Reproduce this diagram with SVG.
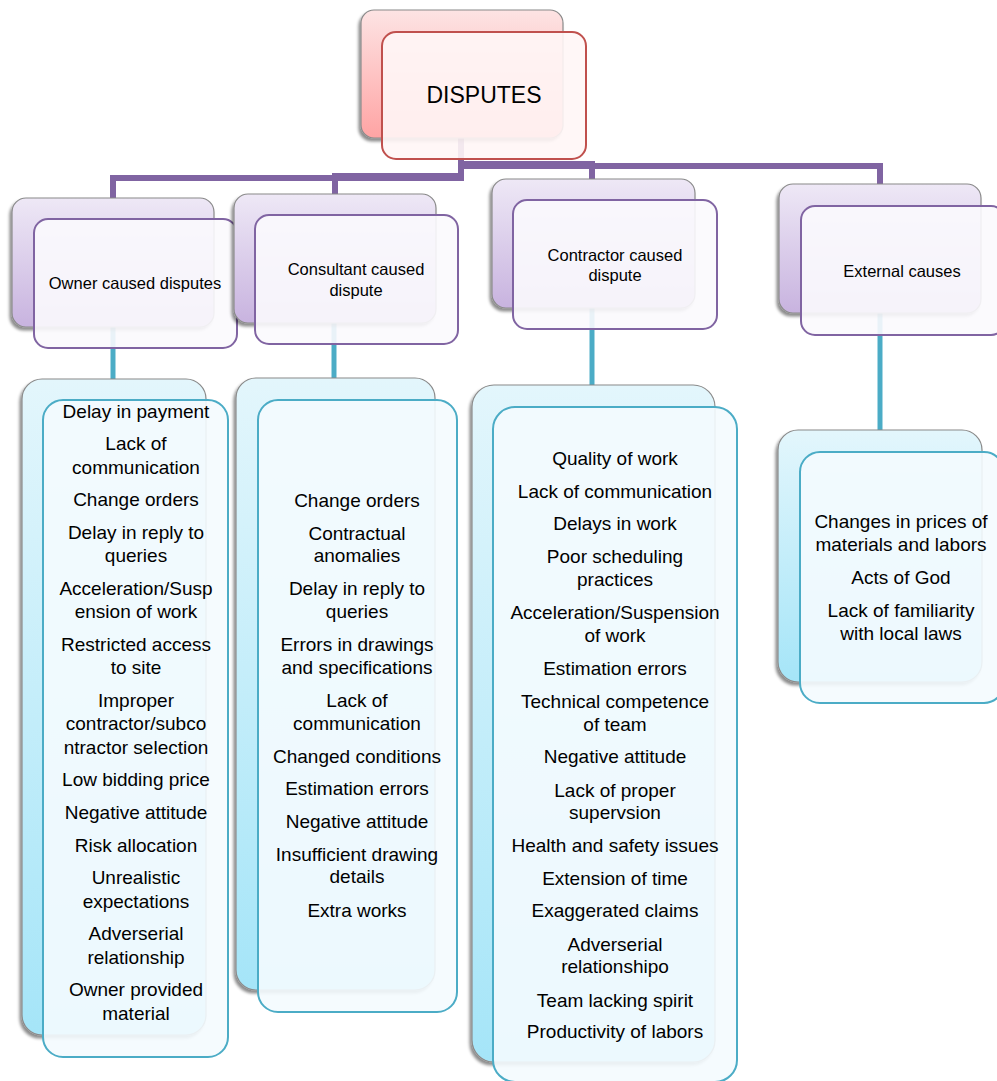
<svg xmlns="http://www.w3.org/2000/svg" width="997" height="1081" viewBox="0 0 997 1081">
<defs>
<linearGradient id="gRed" x1="0" y1="0" x2="0" y2="1"><stop offset="0" stop-color="#fde4e4"/><stop offset="1" stop-color="#ffa4a4"/></linearGradient>
<linearGradient id="gPur" x1="0" y1="0" x2="0" y2="1"><stop offset="0" stop-color="#eee8f6"/><stop offset="1" stop-color="#c8b3df"/></linearGradient>
<linearGradient id="gCyan" x1="0" y1="0" x2="0" y2="1"><stop offset="0" stop-color="#e3f6fc"/><stop offset="1" stop-color="#a5e5f8"/></linearGradient>
<filter id="sh" x="-10%" y="-10%" width="120%" height="120%"><feDropShadow dx="-2" dy="3" stdDeviation="1.5" flood-color="#000" flood-opacity="0.45"/></filter>
<style>
.back{stroke:#8a8a8a;stroke-width:1.2;filter:url(#sh)}
.f1{fill:#fff6f6;fill-opacity:0.9;stroke:#c0504d;stroke-width:2}
.f2{fill:#fbfafd;fill-opacity:0.9;stroke:#8064a2;stroke-width:2}
.f3{fill:#f4fbfe;fill-opacity:0.9;stroke:#4bacc6;stroke-width:2}
.pc{fill:none;stroke:#8064a2;stroke-width:6}
.tc{fill:none;stroke:#4bacc6;stroke-width:5}
text{font-family:"Liberation Sans",Arial,sans-serif;fill:#000;text-anchor:middle}
.t1{font-size:23px}
.t2{font-size:16.5px}
.t3{font-size:19px}
</style>
</defs>
<rect width="997" height="1081" fill="#fff"/>
<g id="connectors">
<path class="pc" d="M461,138 V178 H113 V199"/>
<path class="pc" d="M461,138 V176 H335 V194"/>
<path class="pc" d="M461,138 V164 H592 V179"/>
<path class="pc" d="M461,138 V166 H880 V185"/>
<path class="tc" d="M113,327 V379"/>
<path class="tc" d="M334,323 V378"/>
<path class="tc" d="M592,308 V385"/>
<path class="tc" d="M880,313 V430"/>
</g>
<g id="disputes">
<rect class="back" x="361" y="10" width="202" height="128" rx="13" fill="url(#gRed)"/>
<rect class="f1" x="382" y="32" width="204" height="127" rx="14"/>
<text class="t1" x="484" y="103">DISPUTES</text>
</g>
<g id="owner">
<rect class="back" x="12" y="198" width="202" height="129" rx="14" fill="url(#gPur)"/>
<rect class="f2" x="34" y="219" width="203" height="129" rx="14"/>
<text class="t2" x="135" y="289">Owner caused disputes</text>
</g>
<g id="consultant">
<rect class="back" x="234" y="194" width="202" height="129" rx="14" fill="url(#gPur)"/>
<rect class="f2" x="255" y="215" width="203" height="129" rx="14"/>
<text class="t2" x="356" y="275">Consultant caused</text>
<text class="t2" x="356" y="296">dispute</text>
</g>
<g id="contractor">
<rect class="back" x="492" y="179" width="203" height="129" rx="14" fill="url(#gPur)"/>
<rect class="f2" x="513" y="200" width="204" height="129" rx="14"/>
<text class="t2" x="615" y="261">Contractor caused</text>
<text class="t2" x="615" y="281">dispute</text>
</g>
<g id="external">
<rect class="back" x="779" y="184" width="202" height="129" rx="14" fill="url(#gPur)"/>
<rect class="f2" x="801" y="206" width="204" height="129" rx="14"/>
<text class="t2" x="902" y="277">External causes</text>
</g>
<g id="owner-list">
<rect class="back" x="22" y="379" width="184" height="656" rx="20" fill="url(#gCyan)"/>
<rect class="f3" x="43" y="400" width="185" height="657" rx="20"/>
<text class="t3" x="136" y="418">Delay in payment</text>
<text class="t3" x="136" y="450">Lack of</text>
<text class="t3" x="136" y="474">communication</text>
<text class="t3" x="136" y="506">Change orders</text>
<text class="t3" x="136" y="539">Delay in reply to</text>
<text class="t3" x="136" y="562">queries</text>
<text class="t3" x="136" y="595">Acceleration/Susp</text>
<text class="t3" x="136" y="618">ension of work</text>
<text class="t3" x="136" y="651">Restricted access</text>
<text class="t3" x="136" y="674">to site</text>
<text class="t3" x="136" y="707">Improper</text>
<text class="t3" x="136" y="730">contractor/subco</text>
<text class="t3" x="136" y="754">ntractor selection</text>
<text class="t3" x="136" y="786">Low bidding price</text>
<text class="t3" x="136" y="819">Negative attitude</text>
<text class="t3" x="136" y="852">Risk allocation</text>
<text class="t3" x="136" y="884">Unrealistic</text>
<text class="t3" x="136" y="908">expectations</text>
<text class="t3" x="136" y="940">Adverserial</text>
<text class="t3" x="136" y="964">relationship</text>
<text class="t3" x="136" y="996">Owner provided</text>
<text class="t3" x="136" y="1020">material</text>
</g>
<g id="consultant-list">
<rect class="back" x="236" y="378" width="199" height="612" rx="20" fill="url(#gCyan)"/>
<rect class="f3" x="258" y="400" width="199" height="612" rx="20"/>
<text class="t3" x="357" y="507">Change orders</text>
<text class="t3" x="357" y="540">Contractual</text>
<text class="t3" x="357" y="562">anomalies</text>
<text class="t3" x="357" y="595">Delay in reply to</text>
<text class="t3" x="357" y="618">queries</text>
<text class="t3" x="357" y="651">Errors in drawings</text>
<text class="t3" x="357" y="674">and specifications</text>
<text class="t3" x="357" y="707">Lack of</text>
<text class="t3" x="357" y="730">communication</text>
<text class="t3" x="357" y="763">Changed conditions</text>
<text class="t3" x="357" y="795">Estimation errors</text>
<text class="t3" x="357" y="828">Negative attitude</text>
<text class="t3" x="357" y="861">Insufficient drawing</text>
<text class="t3" x="357" y="883">details</text>
<text class="t3" x="357" y="917">Extra works</text>
</g>
<g id="contractor-list">
<rect class="back" x="472" y="385" width="243" height="677" rx="22" fill="url(#gCyan)"/>
<rect class="f3" x="493" y="407" width="244" height="675" rx="22"/>
<text class="t3" x="615" y="465">Quality of work</text>
<text class="t3" x="615" y="498">Lack of communication</text>
<text class="t3" x="615" y="530">Delays in work</text>
<text class="t3" x="615" y="563">Poor scheduling</text>
<text class="t3" x="615" y="586">practices</text>
<text class="t3" x="615" y="619">Acceleration/Suspension</text>
<text class="t3" x="615" y="642">of work</text>
<text class="t3" x="615" y="675">Estimation errors</text>
<text class="t3" x="615" y="708">Technical competence</text>
<text class="t3" x="615" y="731">of team</text>
<text class="t3" x="615" y="763">Negative attitude</text>
<text class="t3" x="615" y="797">Lack of proper</text>
<text class="t3" x="615" y="819">supervsion</text>
<text class="t3" x="615" y="852">Health and safety issues</text>
<text class="t3" x="615" y="885">Extension of time</text>
<text class="t3" x="615" y="917">Exaggerated claims</text>
<text class="t3" x="615" y="951">Adverserial</text>
<text class="t3" x="615" y="973">relationshipo</text>
<text class="t3" x="615" y="1007">Team lacking spirit</text>
<text class="t3" x="615" y="1038">Productivity of labors</text>
</g>
<g id="external-list">
<rect class="back" x="778" y="430" width="204" height="252" rx="20" fill="url(#gCyan)"/>
<rect class="f3" x="800" y="452" width="204" height="251" rx="20"/>
<text class="t3" x="901" y="528">Changes in prices of</text>
<text class="t3" x="901" y="551">materials and labors</text>
<text class="t3" x="901" y="584">Acts of God</text>
<text class="t3" x="901" y="617">Lack of familiarity</text>
<text class="t3" x="901" y="640">with local laws</text>
</g>
</svg>
